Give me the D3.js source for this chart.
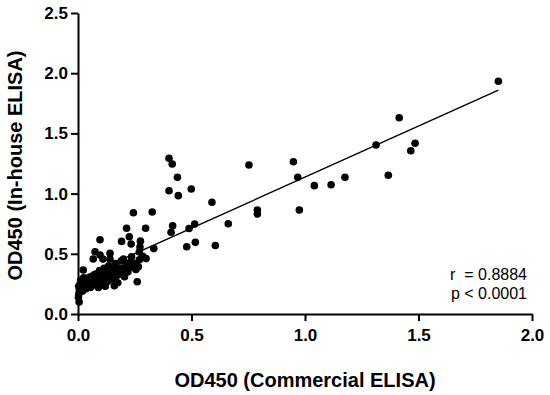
<!DOCTYPE html>
<html>
<head>
<meta charset="utf-8">
<script src="https://cdn.jsdelivr.net/npm/d3@7"></script>
<style>
  body { margin: 0; background: #fff; }
  text { font-family: "Liberation Sans", Arial, sans-serif; }
</style>
</head>
<body>
<div id="chart"></div>
<script>
// OD450 values, one pair per sample
let commercial = [
  1.852, 1.415, 1.313, 1.485, 1.466, 1.367, 0.753, 0.949, 0.968, 1.041,
  1.115, 1.176, 0.975, 0.79, 0.79, 0.662, 0.59, 0.499, 0.401, 0.415,
  0.438, 0.401, 0.442, 0.514, 0.489, 0.417, 0.41, 0.479, 0.517, 0.605,
  0.244, 0.327, 0.214, 0.298, 0.226, 0.192, 0.234, 0.275, 0.273, 0.334,
  0.097, 0.27, 0.266, 0.261,
  0.005, 0.002, 0.004, 0.006, 0.003, 0.01, 0.012, 0.015, 0.02, 0.018,
  0.025, 0.023, 0.028, 0.035, 0.04, 0.045, 0.05, 0.055, 0.06, 0.065,
  0.067, 0.07, 0.075, 0.075, 0.08, 0.085, 0.09, 0.097, 0.095, 0.1,
  0.105, 0.11, 0.11, 0.115, 0.12, 0.125, 0.13, 0.135, 0.141, 0.141,
  0.145, 0.15, 0.155, 0.16, 0.165, 0.17, 0.175, 0.18, 0.185, 0.19,
  0.2, 0.2, 0.205, 0.21, 0.215, 0.22, 0.23, 0.236, 0.24, 0.25,
  0.255, 0.27, 0.285, 0.3, 0.12, 0.16, 0.09, 0.17
];
let inhouse = [
  1.933, 1.63, 1.404, 1.418, 1.356, 1.152, 1.237, 1.265, 1.135, 1.066,
  1.074, 1.135, 0.864, 0.864, 0.83, 0.75, 0.928, 1.038, 1.293, 1.246,
  1.135, 1.024, 0.983, 0.747, 0.71, 0.733, 0.679, 0.559, 0.595, 0.569,
  0.841, 0.847, 0.712, 0.712, 0.642, 0.603, 0.581, 0.605, 0.557, 0.543,
  0.617, 0.515, 0.393, 0.268,
  0.10, 0.14, 0.17, 0.20, 0.23, 0.25, 0.28, 0.22, 0.19, 0.26,
  0.30, 0.365, 0.24, 0.21, 0.27, 0.25, 0.29, 0.22, 0.31, 0.26,
  0.457, 0.28, 0.517, 0.33, 0.24, 0.30, 0.27, 0.49, 0.36, 0.33,
  0.25, 0.457, 0.29, 0.38, 0.31, 0.35, 0.27, 0.40, 0.504, 0.457,
  0.33, 0.29, 0.37, 0.31, 0.42, 0.34, 0.26, 0.38, 0.33, 0.44,
  0.457, 0.38, 0.31, 0.36, 0.41, 0.35, 0.43, 0.476, 0.39, 0.42,
  0.37, 0.45, 0.48, 0.46, 0.23, 0.235, 0.22, 0.318
];

// linear fit shown on the chart
let fitSlope = 0.848;
let fitIntercept = 0.289;
let statLabels = ["r  = 0.8884", "p < 0.0001"];

let xTicks = [0, 0.5, 1.0, 1.5, 2.0];
let yTicks = [0, 0.5, 1.0, 1.5, 2.0, 2.5];

let width = 550, height = 395;
let margin = { top: 13, right: 18, bottom: 81, left: 78 };

let svg = d3.select("#chart").append("svg")
  .attr("width", width)
  .attr("height", height);

let x = d3.scaleLinear().domain([0, 2]).range([margin.left, width - margin.right]);
let y = d3.scaleLinear().domain([0, 2.5]).range([height - margin.bottom, margin.top]);

// regression line over the range of the data
let xExt = d3.extent(commercial);
svg.append("line")
  .attr("x1", x(xExt[0]))
  .attr("y1", y(fitIntercept + fitSlope * xExt[0]))
  .attr("x2", x(xExt[1]))
  .attr("y2", y(fitIntercept + fitSlope * xExt[1]))
  .attr("stroke", "#000")
  .attr("stroke-width", 1.4);

// points
svg.selectAll("circle").data(commercial).enter().append("circle")
  .attr("cx", function (d) { return x(d); })
  .attr("cy", function (d, i) { return y(inhouse[i]); })
  .attr("r", 3.8)
  .attr("fill", "#000");

// axes
let xAxis = svg.append("g")
  .attr("transform", "translate(0," + (height - margin.bottom) + ")")
  .call(d3.axisBottom(x).tickValues(xTicks).tickFormat(d3.format(".1f"))
    .tickSize(7).tickSizeOuter(0).tickPadding(8));

let yAxis = svg.append("g")
  .attr("transform", "translate(" + margin.left + ",0)")
  .call(d3.axisLeft(y).tickValues(yTicks).tickFormat(d3.format(".1f"))
    .tickSize(7).tickSizeOuter(0).tickPadding(3));

[xAxis, yAxis].forEach(function (g) {
  g.select(".domain").attr("stroke-width", 2);
  g.selectAll(".tick line").attr("stroke-width", 2);
  g.selectAll("text")
    .attr("font-family", "Liberation Sans, Arial, sans-serif")
    .attr("font-size", "17px")
    .attr("font-weight", "bold")
    .attr("fill", "#000");
});

// axis titles
svg.append("text")
  .attr("x", (margin.left + width - margin.right) / 2)
  .attr("y", 387)
  .attr("text-anchor", "middle")
  .attr("font-size", "20px")
  .attr("font-weight", "bold")
  .text("OD450 (Commercial ELISA)");

svg.append("text")
  .attr("transform", "translate(22," + ((margin.top + height - margin.bottom) / 2 + 2) + ") rotate(-90)")
  .attr("text-anchor", "middle")
  .attr("font-size", "20px")
  .attr("font-weight", "bold")
  .text("OD450 (In-house ELISA)");

// r and p values
svg.selectAll(".stat").data(statLabels).enter().append("text")
  .attr("class", "stat")
  .attr("x", 527)
  .attr("y", function (d, i) { return 280 + i * 19; })
  .attr("text-anchor", "end")
  .attr("font-size", "16px")
  .style("white-space", "pre")
  .text(function (d) { return d; });
</script>
</body>
</html>
